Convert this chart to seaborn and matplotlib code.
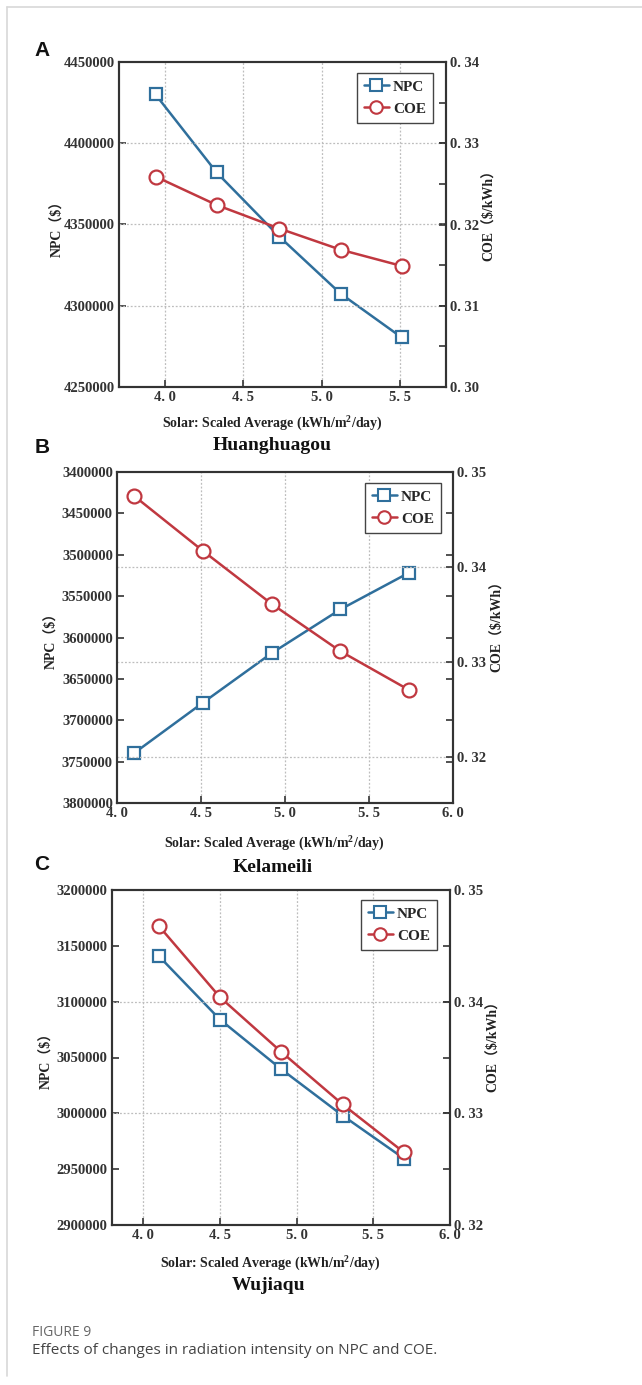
import matplotlib
matplotlib.use("Agg")
import matplotlib.pyplot as plt
import seaborn as sns
import numpy as np
from matplotlib.ticker import FuncFormatter, MultipleLocator
from matplotlib.lines import Line2D

# ---------------- data ----------------
sites = ["Huanghuagou", "Kelameili", "Wujiaqu"]
panel_letters = ["A", "B", "C"]

solar_A = [3.94, 4.33, 4.73, 5.12, 5.51]
npc_A = [4430000, 4382000, 4342500, 4307500, 4280500]
coe_A = [0.3259, 0.3224, 0.3195, 0.3169, 0.3149]

solar_B = [4.10, 4.51, 4.92, 5.33, 5.74]
npc_B = [3740000, 3679000, 3619000, 3566000, 3521500]
coe_B = [0.3475, 0.3417, 0.3361, 0.3311, 0.3270]

solar_C = [4.10, 4.50, 4.90, 5.30, 5.70]
npc_C = [3141000, 3084000, 3039500, 2998000, 2959500]
coe_C = [0.3468, 0.3404, 0.3355, 0.3308, 0.3265]

xlabel_text = "Solar: Scaled Average (kWh/m$^2$/day)"
npc_label = "NPC（$）"
coe_label = "COE（$/kWh）"
caption_head = "FIGURE 9"
caption_body = "Effects of changes in radiation intensity on NPC and COE."

# ---------------- style ----------------
sns.set_style("ticks")
plt.rcParams["font.family"] = ["Liberation Serif", "Noto Sans CJK SC", "DejaVu Sans"]
plt.rcParams["mathtext.fontset"] = "custom"
plt.rcParams["mathtext.rm"] = "Liberation Serif:bold"
plt.rcParams["mathtext.bf"] = "Liberation Serif:bold"

W, H = 642, 1385
fig = plt.figure(figsize=(W / 100, H / 100), dpi=100)
fig.patch.set_facecolor("white")

def fx(x):
    return x / W

def fy(y):
    return 1 - y / H

# page frame (top & left)
fig.add_artist(Line2D([fx(7), fx(642)], [fy(7), fy(7)], color="#d8d8d8", lw=1.2))
fig.add_artist(Line2D([fx(7), fx(7)], [fy(7), fy(1376)], color="#d8d8d8", lw=1.2))

NPC_COLOR = "#2f6f9c"
COE_COLOR = "#c03840"
TICK_COLOR = "#333333"
serif_list = ["Liberation Serif", "Noto Sans CJK SC", "DejaVu Sans"]

dec_fmt1 = FuncFormatter(lambda v, p: f"{v:.1f}".replace(".", ". "))
dec_fmt2 = FuncFormatter(lambda v, p: f"{v:.2f}".replace(".", ". "))
int_fmt = FuncFormatter(lambda v, p: f"{int(round(v))}")

panels = [
    dict(x=solar_A, npc=npc_A, coe=coe_A,
         box=(119, 62, 446, 387), xlim=(3.707, 5.793), xticks=[4.0, 4.5, 5.0, 5.5],
         ylim=(4250000, 4450000), yinvert=False, ylim2=(0.30, 0.34), minor2=True,
         legend=(433, 73), ylab=(58, 225), ylab2=(489, 212), xlab=(272, 423),
         title=(272, 445), letter=(42, 50)),
    dict(x=solar_B, npc=npc_B, coe=coe_B,
         box=(117, 472, 453, 803), xlim=(4.0, 6.0), xticks=[4.0, 4.5, 5.0, 5.5, 6.0],
         ylim=(3400000, 3800000), yinvert=True, ylim2=(0.3151, 0.35), minor2=False,
         legend=(441, 483), ylab=(52, 637), ylab2=(497, 623), xlab=(274, 843),
         title=(273, 867), letter=(42, 448)),
    dict(x=solar_C, npc=npc_C, coe=coe_C,
         box=(111.7, 890, 450, 1225), xlim=(3.794, 6.0), xticks=[4.0, 4.5, 5.0, 5.5, 6.0],
         ylim=(2900000, 3200000), yinvert=False, ylim2=(0.32, 0.35), minor2=False,
         legend=(437, 900), ylab=(47, 1057), ylab2=(493, 1043), xlab=(270, 1263),
         title=(269, 1285), letter=(42, 865)),
]

for i, pdef in enumerate(panels):
    x0, y0, x1, y1 = pdef["box"]
    ax = fig.add_axes([fx(x0), fy(y1), (x1 - x0) / W, (y1 - y0) / H])
    ax2 = ax.twinx()

    sns.lineplot(x=pdef["x"], y=pdef["npc"], ax=ax, color=NPC_COLOR, lw=1.8,
                 marker="s", markersize=9, markerfacecolor="white",
                 markeredgecolor=NPC_COLOR, markeredgewidth=1.6, legend=False, zorder=3)
    sns.lineplot(x=pdef["x"], y=pdef["coe"], ax=ax2, color=COE_COLOR, lw=1.8,
                 marker="o", markersize=10, markerfacecolor="white",
                 markeredgecolor=COE_COLOR, markeredgewidth=1.6, legend=False, zorder=3)

    ax.set_xlim(*pdef["xlim"])
    ax.set_ylim(*pdef["ylim"])
    if pdef["yinvert"]:
        ax.invert_yaxis()
    ax2.set_ylim(*pdef["ylim2"])

    ax.set_xticks(pdef["xticks"])
    ax.xaxis.set_major_formatter(dec_fmt1)
    ax.yaxis.set_major_locator(MultipleLocator(50000))
    ax.yaxis.set_major_formatter(int_fmt)
    ax2.yaxis.set_major_locator(MultipleLocator(0.01))
    ax2.yaxis.set_major_formatter(dec_fmt2)
    if pdef["minor2"]:
        ax2.yaxis.set_minor_locator(MultipleLocator(0.005))

    ax.set_xlabel("")
    ax.set_ylabel("")
    ax2.set_ylabel("")

    ax.tick_params(axis="both", which="major", direction="in", length=5, width=1.2,
                   labelsize=10.5, labelcolor=TICK_COLOR, color="#333333", pad=3,
                   right=True, top=False)
    ax2.tick_params(axis="y", which="both", direction="in", length=5, width=1.2,
                    labelsize=10.5, labelcolor=TICK_COLOR, color="#333333", pad=3)
    for lab in ax.get_xticklabels() + ax.get_yticklabels() + ax2.get_yticklabels():
        lab.set_fontweight("bold")

    # grid: vertical from x majors, horizontal from right axis majors
    ax.grid(False)
    ax2.grid(False)
    for xv in pdef["xticks"]:
        if pdef["xlim"][0] < xv < pdef["xlim"][1]:
            ax.axvline(xv, color="#bdbdbd", lw=0.9, ls=(0, (1.5, 1.5)), zorder=0.5)
    lo2, hi2 = pdef["ylim2"]
    for yv in np.arange(0.30, 0.36, 0.01):
        if lo2 + 1e-6 < yv < hi2 - 1e-6:
            ax2.axhline(yv, color="#bdbdbd", lw=0.9, ls=(0, (1.5, 1.5)), zorder=0.5)

    for a in (ax, ax2):
        for s in a.spines.values():
            s.set_color("#333333")
            s.set_linewidth(1.5)

    # legend
    handles = [
        Line2D([], [], color=NPC_COLOR, lw=1.8, marker="s", markersize=8,
               markerfacecolor="white", markeredgecolor=NPC_COLOR, markeredgewidth=1.5),
        Line2D([], [], color=COE_COLOR, lw=1.8, marker="o", markersize=9,
               markerfacecolor="white", markeredgecolor=COE_COLOR, markeredgewidth=1.5),
    ]
    lx, ly = pdef["legend"]
    leg = ax2.legend(handles, ["NPC", "COE"], loc="upper right",
                     bbox_to_anchor=(fx(lx), fy(ly)), bbox_transform=fig.transFigure,
                     frameon=True, fancybox=False, framealpha=1, edgecolor="#444444",
                     prop=dict(family=serif_list, weight="bold", size=11),
                     handlelength=1.6, handletextpad=0.3, borderpad=0.45,
                     labelspacing=0.55, borderaxespad=0, borderaxespad_=None) if False else \
        ax2.legend(handles, ["NPC", "COE"], loc="upper right",
                   bbox_to_anchor=(fx(lx), fy(ly)), bbox_transform=fig.transFigure,
                   frameon=True, fancybox=False, framealpha=1, edgecolor="#444444",
                   prop=dict(family=serif_list, weight="bold", size=11),
                   handlelength=1.6, handletextpad=0.3, borderpad=0.45,
                   labelspacing=0.55, borderaxespad=0)
    leg.get_frame().set_linewidth(1.0)

    # text labels
    fig.text(fx(pdef["ylab"][0]), fy(pdef["ylab"][1]), npc_label, rotation=90,
             ha="center", va="center", fontsize=10, fontweight="bold",
             family=serif_list, color="#222222")
    fig.text(fx(pdef["ylab2"][0]), fy(pdef["ylab2"][1]), coe_label, rotation=90,
             ha="center", va="center", fontsize=10, fontweight="bold",
             family=serif_list, color="#222222")
    fig.text(fx(pdef["xlab"][0]), fy(pdef["xlab"][1]), xlabel_text,
             ha="center", va="center", fontsize=10, fontweight="bold",
             family=serif_list, color="#222222")
    fig.text(fx(pdef["title"][0]), fy(pdef["title"][1]), sites[i],
             ha="center", va="center", fontsize=14, fontweight="bold",
             family=serif_list, color="#111111")
    fig.text(fx(pdef["letter"][0]), fy(pdef["letter"][1]), panel_letters[i],
             ha="center", va="center", fontsize=15, fontweight="bold",
             family=["Liberation Sans", "DejaVu Sans"], color="#111111")

fig.text(fx(32), fy(1333), caption_head, ha="left", va="center", fontsize=10,
         family=["Open Sans", "DejaVu Sans"], color="#666666")
fig.text(fx(32), fy(1351), caption_body, ha="left", va="center", fontsize=11,
         family=["Open Sans", "DejaVu Sans"], color="#444444")

fig.savefig("out.png", dpi=100, facecolor="white")
